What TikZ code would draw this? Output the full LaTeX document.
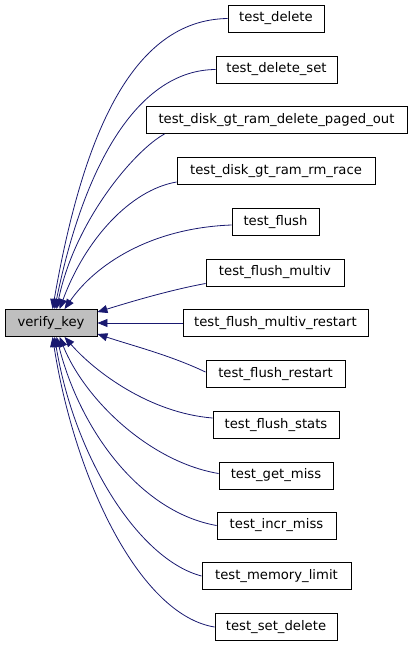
\documentclass[tikz,border=0pt]{standalone}
\usepackage{fontspec}
\setmainfont{DejaVu Sans}
\usetikzlibrary{arrows.meta}
\definecolor{edgeblue}{HTML}{191970}
\definecolor{vkgrey}{HTML}{BFBFBF}
\begin{document}
\begin{tikzpicture}[x=1pt,y=-1pt,
  box/.style={draw=black,line width=0.9pt,rectangle,minimum height=27pt,inner sep=0pt,
    font=\fontsize{13.2}{15}\selectfont},
  edge/.style={draw=edgeblue,line width=0.8pt,-{Triangle[length=10pt,width=8pt]}}]
\useasboundingbox (0,0) rectangle (413,645);
\node[box,fill=vkgrey,minimum width=92pt] (vk) at (51,323) {verify\_key};
\node[box,minimum width=96pt]  (n1)  at (276,18.5)  {test\_delete};
\node[box,minimum width=121pt] (n2)  at (276.5,69.5) {test\_delete\_set};
\node[box,minimum width=261pt] (n3)  at (276.5,120) {test\_disk\_gt\_ram\_delete\_paged\_out};
\node[box,minimum width=198pt] (n4)  at (276,171)   {test\_disk\_gt\_ram\_rm\_race};
\node[box,minimum width=87pt]  (n5)  at (275.5,222) {test\_flush};
\node[box,minimum width=138pt] (n6)  at (275,272.5) {test\_flush\_multiv};
\node[box,minimum width=185pt] (n7)  at (275.5,323) {test\_flush\_multiv\_restart};
\node[box,minimum width=139pt] (n8)  at (275.5,374) {test\_flush\_restart};
\node[box,minimum width=126pt] (n9)  at (276,425)   {test\_flush\_stats};
\node[box,minimum width=114pt] (n10) at (276,475.5) {test\_get\_miss};
\node[box,minimum width=119pt] (n11) at (276.5,525.5) {test\_incr\_miss};
\node[box,minimum width=149pt] (n12) at (276.5,576) {test\_memory\_limit};
\node[box,minimum width=122pt] (n13) at (276,627)   {test\_set\_delete};
% upper edges
\draw[edge] (n1.west) .. controls (130,20) and (82,140) .. ([xshift=48pt]vk.north west);
\draw[edge] (n2.west) .. controls (140,70) and (85,160) .. ([xshift=50pt]vk.north west);
\draw[edge] ([xshift=19pt]n3.south west) .. controls (135,150) and (75,220) .. ([xshift=52pt]vk.north west);
\draw[edge] ([yshift=-11pt]n4.west) .. controls (130,190) and (85,240) .. ([xshift=55pt]vk.north west);
\draw[edge] ([yshift=-3pt]n5.west) .. controls (150,228) and (95,265) .. ([xshift=60pt]vk.north west);
\draw[edge] ([yshift=-11pt]n6.west) .. controls (170,290) and (130,302) .. ([yshift=-3pt]vk.north east);
\draw[edge] (n7.west) -- (vk.east);
% lower edges
\draw[edge] ([yshift=-12pt]n8.north west) .. controls (170,355) and (130,345) .. ([yshift=3pt]vk.south east);
\draw[edge] ([yshift=7pt]n9.west) .. controls (150,413) and (95,372) .. ([xshift=60pt]vk.south west);
\draw[edge] ([yshift=2pt]n10.west) .. controls (150,462) and (85,400) .. ([xshift=55pt]vk.south west);
\draw[edge] (n11.west) .. controls (140,512) and (80,430) .. ([xshift=52pt]vk.south west);
\draw[edge] (n12.west) .. controls (140,560) and (75,460) .. ([xshift=50pt]vk.south west);
\draw[edge] (n13.west) .. controls (140,615) and (75,480) .. ([xshift=48pt]vk.south west);
\end{tikzpicture}
\end{document}
